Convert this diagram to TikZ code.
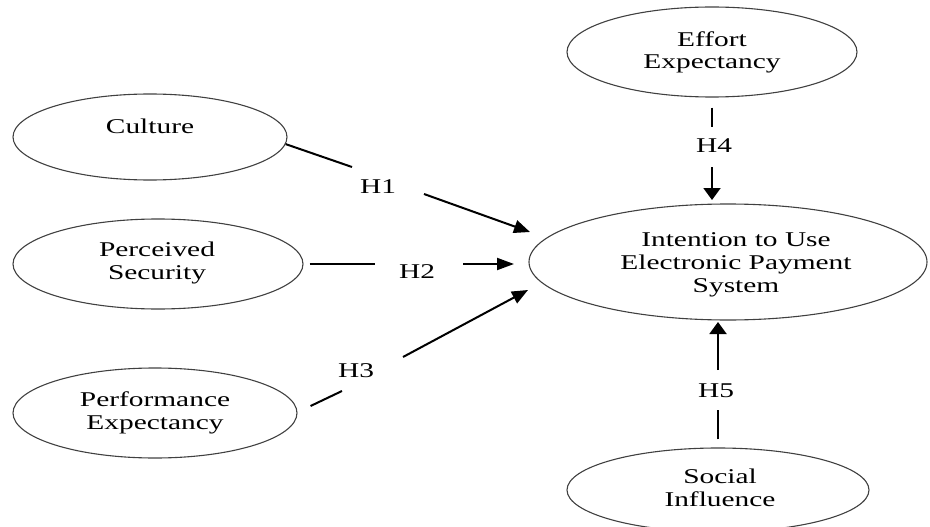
\documentclass[tikz,border=0pt]{standalone}
\usepackage{fontspec}
\setmainfont{Liberation Serif}[FakeStretch=1.40]
\usetikzlibrary{shapes.geometric,arrows.meta}
\begin{document}
\begin{tikzpicture}[x=1pt,y=-1pt,
  ell/.style={draw=black!75, line width=1.1pt, ellipse, inner sep=0pt},
  txt/.style={font=\fontsize{21}{22.8}\selectfont, align=center, anchor=base, inner sep=0pt},
  hyp/.style={font=\fontsize{21}{22.8}\selectfont, anchor=base, inner sep=0pt},
  conn/.style={line width=2pt, black},
  tiph/.style={conn, -{Triangle[length=17pt,width=12pt]}},
  tipd/.style={conn, -{Triangle[length=16pt,width=13pt]}},
  tipv/.style={conn, -{Triangle[length=12pt,width=17pt]}}]
\useasboundingbox (0,0) rectangle (930,527);

% ellipses
\node[ell, minimum width=274pt, minimum height=86pt] (cult) at (150,137) {};
\node[ell, minimum width=290pt, minimum height=90pt] (perc) at (158,264) {};
\node[ell, minimum width=284pt, minimum height=90pt] (perf) at (155,413) {};
\node[ell, minimum width=290pt, minimum height=90pt] (eff) at (712,52) {};
\node[ell, minimum width=398pt, minimum height=116pt] (int) at (728,262) {};
\node[ell, minimum width=302pt, minimum height=84pt] (soc) at (718,490) {};

% texts (base anchor = baseline of the last line)
\node[txt] (cultt) at (150,133) {Culture};
\node[txt] (perct) at (157,279) {Perceived\\Security};
\node[txt] (perft) at (155,429) {Performance\\Expectancy};
\node[txt] (efft) at (712,69) {Effort\\Expectancy};
\node[txt] (intt) at (736,292) {Intention to Use\\Electronic Payment\\System};
\node[txt] (soct) at (720,506) {Social\\Influence};

% hypothesis labels
\node[hyp] (h1) at (378,193) {H1};
\node[hyp] (h2) at (417,278) {H2};
\node[hyp] (h3) at (356,377) {H3};
\node[hyp] (h4) at (714,153) {H4};
\node[hyp] (h5) at (716,397) {H5};

% connector break points and tips
\coordinate (h1a) at (352,167);
\coordinate (h1b) at (424,194);
\coordinate (t1) at (530,232);
\coordinate (h2a) at (375,264);
\coordinate (h2b) at (463,264);
\coordinate (t2) at (514,264);
\coordinate (h3a) at (342,391);
\coordinate (h3b) at (403,357);
\coordinate (t3) at (528,290);
\coordinate (h4a) at (712,127);
\coordinate (h4b) at (712,167);
\coordinate (t4) at (712,200);
\coordinate (h5a) at (718,410);
\coordinate (h5b) at (718,370);
\coordinate (t5) at (718,322);

% connectors
\draw[conn] (cult.-3) -- (h1a);
\draw[tipd] (h1b) -- (t1);
\draw[conn] ([xshift=6pt]perc.east) -- (h2a);
\draw[tiph] (h2b) -- (t2);
\draw[conn] ([shift={(13pt,7pt)}]perf.east) -- (h3a);
\draw[tipd] (h3b) -- (t3);
\draw[conn] ([yshift=-10pt]eff.south) -- (h4a);
\draw[tipv] (h4b) -- (t4);
\draw[conn] ([yshift=8pt]soc.north) -- (h5a);
\draw[tipv] (h5b) -- (t5);
\end{tikzpicture}
\end{document}
